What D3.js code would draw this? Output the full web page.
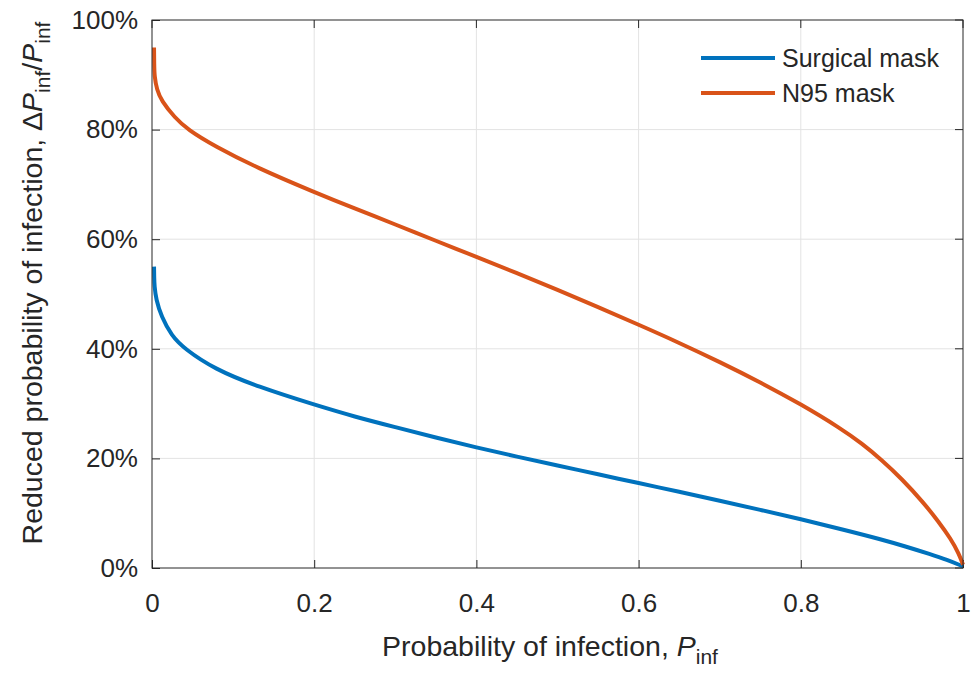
<!DOCTYPE html>
<html>
<head>
<meta charset="utf-8">
<script src="https://cdn.jsdelivr.net/npm/d3@7"></script>
<style>
  body { margin: 0; background: #fff; }
  text { font-family: "Liberation Sans", Arial, Helvetica, sans-serif; fill: #262626; }
</style>
</head>
<body>
<div id="chart"></div>
<script>
// values (P_inf, reduction in %)
var surgicalP = [0.0025, 0.0027, 0.003, 0.005, 0.0115, 0.024, 0.04, 0.077, 0.13, 0.2, 0.25, 0.3, 0.35, 0.4, 0.45, 0.5, 0.55, 0.6, 0.65, 0.7, 0.75, 0.8, 0.85, 0.9, 0.93, 0.96, 0.98, 1.0];
var surgicalR = [55.0, 53.0, 51.5, 49.0, 45.9, 42.4, 40.0, 36.3, 33.1, 29.8, 27.6, 25.7, 23.8, 22.0, 20.3, 18.7, 17.1, 15.5, 13.9, 12.3, 10.6, 8.9, 7.1, 5.2, 3.9, 2.5, 1.5, 0.3];

var n95P = [0.0025, 0.0027, 0.003, 0.006, 0.0115, 0.028, 0.044, 0.077, 0.13, 0.2, 0.25, 0.3, 0.35, 0.4, 0.45, 0.5, 0.55, 0.6, 0.65, 0.7, 0.75, 0.8, 0.85, 0.875, 0.9, 0.925, 0.95, 0.97, 0.985, 0.995, 1.0];
var n95R = [95.0, 92.0, 89.7, 87.3, 85.3, 82.2, 80.0, 77.0, 73.0, 68.6, 65.6, 62.7, 59.7, 56.8, 53.8, 50.8, 47.6, 44.4, 41.1, 37.6, 33.9, 29.9, 25.4, 22.75, 19.7, 16.2, 12.15, 8.45, 5.3, 2.6, 0.6];

var seriesNames = ["Surgical mask", "N95 mask"];
var xTicks = [0, 0.2, 0.4, 0.6, 0.8, 1];
var xTickLabels = ["0", "0.2", "0.4", "0.6", "0.8", "1"];
var yTicks = [0, 20, 40, 60, 80, 100];
var yTickLabels = ["0%", "20%", "40%", "60%", "80%", "100%"];

var colors = ["#0072BD", "#D95319"];

var W = 972, H = 675;
var margin = {top: 20, right: 9, bottom: 107, left: 152},
    width = W - margin.left - margin.right,
    height = H - margin.top - margin.bottom;

var x = d3.scaleLinear().domain([0, 1]).range([0, width]);
var y = d3.scaleLinear().domain([0, 100]).range([height, 0]);

var svg = d3.select("#chart").append("svg")
    .attr("width", W)
    .attr("height", H);

var g = svg.append("g")
    .attr("transform", "translate(" + margin.left + "," + margin.top + ")");

// grid
g.append("g").selectAll("line")
    .data(xTicks.slice(1, -1))
  .enter().append("line")
    .attr("x1", function(d) { return x(d); })
    .attr("x2", function(d) { return x(d); })
    .attr("y1", 0).attr("y2", height)
    .attr("stroke", "#e3e3e3").attr("stroke-width", 1);

g.append("g").selectAll("line")
    .data(yTicks.slice(1, -1))
  .enter().append("line")
    .attr("y1", function(d) { return y(d); })
    .attr("y2", function(d) { return y(d); })
    .attr("x1", 0).attr("x2", width)
    .attr("stroke", "#e3e3e3").attr("stroke-width", 1);

// axes (ticks inward like MATLAB)
var xAxis = g.append("g")
    .attr("transform", "translate(0," + height + ")")
    .call(d3.axisBottom(x).tickValues(xTicks).tickSizeInner(-8).tickSizeOuter(0)
        .tickFormat(function(d, i) { return xTickLabels[i]; }));
xAxis.select(".domain").remove();
xAxis.selectAll("line").attr("stroke", "#262626");
xAxis.selectAll("text").attr("y", 26).attr("dy", "0.71em")
    .style("font-size", "26px").attr("fill", "#262626");

var yAxis = g.append("g")
    .call(d3.axisLeft(y).tickValues(yTicks).tickSizeInner(-8).tickSizeOuter(0)
        .tickFormat(function(d, i) { return yTickLabels[i]; }));
yAxis.select(".domain").remove();
yAxis.selectAll("line").attr("stroke", "#262626");
yAxis.selectAll("text").attr("x", -14)
    .style("font-size", "26px").attr("fill", "#262626");

// ticks on the right and top too
g.append("g").selectAll("line")
    .data(yTicks)
  .enter().append("line")
    .attr("x1", width).attr("x2", width - 8)
    .attr("y1", function(d) { return y(d); })
    .attr("y2", function(d) { return y(d); })
    .attr("stroke", "#262626");
g.append("g").selectAll("line")
    .data(xTicks)
  .enter().append("line")
    .attr("y1", 0).attr("y2", 8)
    .attr("x1", function(d) { return x(d); })
    .attr("x2", function(d) { return x(d); })
    .attr("stroke", "#262626");

// the curves (basis spline smooths out reading noise)
var line = d3.line()
    .x(function(d) { return x(d[0]); })
    .y(function(d) { return y(d[1]); })
    .curve(d3.curveBasis);

var seriesData = [
    d3.zip(surgicalP, surgicalR),
    d3.zip(n95P, n95R)
];

g.selectAll(".curve")
    .data(seriesData)
  .enter().append("path")
    .attr("class", "curve")
    .attr("d", line)
    .attr("fill", "none")
    .attr("stroke", function(d, i) { return colors[i]; })
    .attr("stroke-width", 4);

// box
g.append("rect")
    .attr("width", width).attr("height", height)
    .attr("fill", "none").attr("stroke", "#262626").attr("stroke-width", 1);

// axis labels
var xl = svg.append("text")
    .attr("x", 550)
    .attr("y", 656)
    .attr("text-anchor", "middle")
    .style("font-size", "28.5px");
xl.append("tspan").text("Probability of infection, ");
xl.append("tspan").attr("font-style", "italic").text("P");
xl.append("tspan").attr("dy", 8).style("font-size", "21px").text("inf");

var yl = svg.append("text")
    .attr("transform", "translate(42,283) rotate(-90)")
    .attr("text-anchor", "middle")
    .style("font-size", "28.5px");
yl.append("tspan").text("Reduced probability of infection, \u0394");
yl.append("tspan").attr("font-style", "italic").text("P");
yl.append("tspan").attr("dy", 8).style("font-size", "21px").text("inf");
yl.append("tspan").attr("dy", -8).text("/");
yl.append("tspan").attr("font-style", "italic").text("P");
yl.append("tspan").attr("dy", 8).style("font-size", "21px").text("inf");

// legend
var legend = svg.append("g")
    .attr("transform", "translate(701,58)")
    .selectAll("g")
    .data(seriesNames)
  .enter().append("g")
    .attr("transform", function(d, i) { return "translate(0," + i * 35 + ")"; });

legend.append("line")
    .attr("x1", 0).attr("x2", 74)
    .attr("stroke", function(d, i) { return colors[i]; })
    .attr("stroke-width", 4);

legend.append("text")
    .attr("x", 81)
    .attr("dy", "0.35em")
    .style("font-size", "25px")
    .text(function(d) { return d; });
</script>
</body>
</html>
